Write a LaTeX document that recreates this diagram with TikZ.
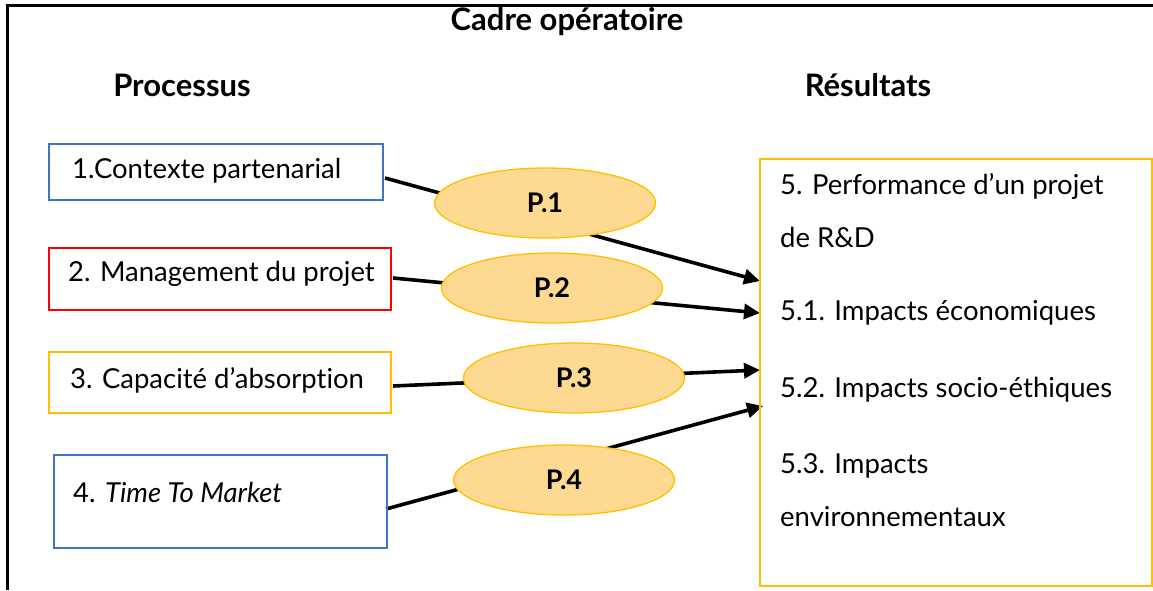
\documentclass[tikz,border=0pt]{standalone}
\usepackage{fontspec}
\setmainfont{Lato}[Ligatures={NoCommon}]
\usetikzlibrary{shapes.geometric,arrows.meta}
\pgfdeclarelayer{bg}
\pgfsetlayers{bg,main}
\definecolor{oblue}{HTML}{4472C4}
\definecolor{ored}{HTML}{FF0000}
\definecolor{ogold}{HTML}{FFC000}
\definecolor{efill}{HTML}{FED991}
\tikzset{
  procbox/.style={draw, line width=2pt, inner sep=0pt},
  boxtext/.style={anchor=west, inner sep=0pt, font=\fontsize{27.5}{32}\selectfont},
  head/.style={inner sep=0pt, font=\fontsize{31}{36}\selectfont\bfseries},
  prop/.style={ellipse, draw=ogold, fill=efill, line width=1.3pt, minimum width=221pt, minimum height=70pt, inner sep=0pt, font=\fontsize{27}{30}\selectfont\bfseries},
  arr/.style={line width=3.6pt, -{Triangle[length=16pt,width=15pt]}},
}
\begin{document}
\begin{tikzpicture}[x=1pt,y=-1pt]
\useasboundingbox (0,0) rectangle (1153,590);
% frame
\draw[line width=2.5pt] (7.5,590) -- (7.5,5.5) -- (1153,5.5);
% headings
\node[head] (title) at (567,22) {Cadre opératoire};
\node[head] (proc) at (182,85) {Processus};
\node[head] (res) at (868,85) {Résultats};
% process boxes
\draw[procbox, draw=oblue] (49,144) rectangle (383,200);
\coordinate (b1e) at (385,178);
\draw[procbox, draw=ored] (49,248) rectangle (391,310);
\coordinate (b2e) at (393,278);
\draw[procbox, draw=ogold] (49,352) rectangle (391,413);
\coordinate (b3e) at (393,386);
\draw[procbox, draw=oblue] (54,455) rectangle (387,548);
\coordinate (b4e) at (386,509);
\node[boxtext] (t1) at (72,171) {1.Contexte partenarial};
\node[boxtext] (t2) at (68,274) {2. Management du projet};
\node[boxtext] (t3) at (70,380) {3. Capacité d’absorption};
\node[boxtext] (t4) at (73,492) {4. \textit{Time To Market}};
% results box
\draw[procbox, draw=ogold] (760,159) rectangle (1151.5,586);
\coordinate (r1) at (760,281);
\coordinate (r2) at (760,313);
\coordinate (r3) at (760,370);
\coordinate (r4) at (763,406);
\node[boxtext] (u1) at (780,186) {5. Performance d’un projet};
\node[boxtext] (u2) at (780,237) {de R\&D};
\node[boxtext] (u3) at (780,313) {5.1. Impacts économiques};
\node[boxtext] (u4) at (780,390) {5.2. Impacts socio-éthiques};
\node[boxtext] (u5) at (780,466) {5.3. Impacts};
\node[boxtext] (u6) at (780,517) {environnementaux};
% propositions
\node[prop] (p1) at (545,203) {P.1};
\node[prop] (p2) at (552,288) {P.2};
\node[prop] (p3) at (574,378) {P.3};
\node[prop] (p4) at (564,480) {P.4};
% connectors
\begin{pgfonlayer}{bg}
\draw[arr] (b1e) -- (r1);
\draw[arr] (b2e) -- (r2);
\draw[arr] (b3e) -- (r3);
\draw[arr] (b4e) -- (r4);
\end{pgfonlayer}
\end{tikzpicture}
\end{document}
